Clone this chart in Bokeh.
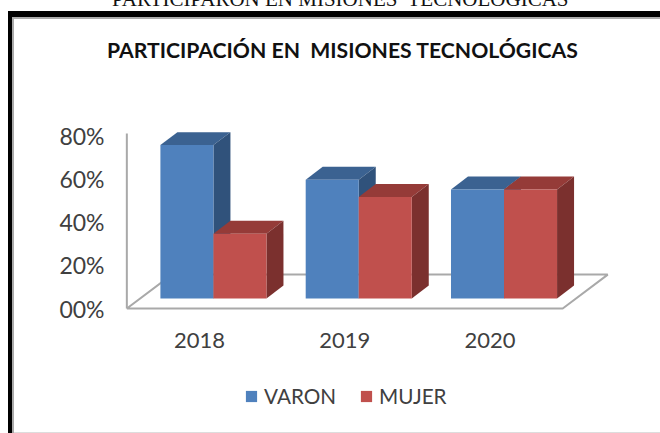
from bokeh.plotting import figure
from bokeh.models import Range1d, FixedTicker, Legend, LegendItem, Div, Column
from bokeh.embed import file_html
from bokeh.resources import INLINE

years = ["2018", "2019", "2020"]
varon = [71, 55, 50.5]
mujer = [30, 47, 50.5]
y_ticks = [0, 20, 40, 60, 80]
y_labels = ["00%", "20%", "40%", "60%", "80%"]
series_names = ["VARON", "MUJER"]
title_text = "PARTICIPACIÓN EN&nbsp; MISIONES TECNOLÓGICAS"
cut_text = "PARTICIPARON EN MISIONES&nbsp; TECNOLOGICAS"

BLUE, BLUE_TOP, BLUE_SIDE = "#4F81BD", "#3B6291", "#30527B"
RED, RED_TOP, RED_SIDE = "#C0504D", "#953B38", "#7B302E"
GREY = "#A9A9A9"
TEXT = "#404040"

# depth of the 3D look, in axis units
FLOOR_DX, FLOOR_DY = 0.31, 15.7
BAR_DX, BAR_DY = 0.117, 6.0
BASE = 4.63      # how far the bars stand back from the front edge
SHIFT = 0.096    # same thing horizontally
W = 0.365

p = figure(width=660, height=375, output_backend="svg", toolbar_location=None,
           x_range=Range1d(-0.523, 3.173), y_range=Range1d(-1.85, 84.7),
           min_border_left=123, min_border_right=0, min_border_top=125, min_border_bottom=63)
p.outline_line_color = None
p.grid.visible = False
p.background_fill_color = "white"

# floor and wall
p.line([-0.5, -0.5], [0, 81], line_color=GREY, line_width=2)
p.line([-0.5, 2.5, 2.5 + FLOOR_DX, -0.5 + FLOOR_DX, -0.5],
       [0, 0, FLOOR_DY, FLOOR_DY, 0], line_color=GREY, line_width=2)

def box(series, offset, front, top, side):
    lefts = [i + SHIFT + offset for i in range(len(series))]
    rights = [l + W for l in lefts]
    tops = [BASE + v for v in series]
    p.patches([[l, r, r + BAR_DX, l + BAR_DX] for l, r in zip(lefts, rights)],
              [[t, t, t + BAR_DY, t + BAR_DY] for t in tops], fill_color=top, line_color=None)
    p.patches([[r, r + BAR_DX, r + BAR_DX, r] for r in rights],
               [[BASE, BASE + BAR_DY, t + BAR_DY, t] for t in tops], fill_color=side, line_color=None)
    return p.quad(left=lefts, right=rights, bottom=[BASE] * len(series), top=tops,
                  fill_color=front, line_color=None)

box(varon, -W, BLUE, BLUE_TOP, BLUE_SIDE)
box(mujer, 0, RED, RED_TOP, RED_SIDE)

yax = p.yaxis[0]
yax.ticker = FixedTicker(ticks=y_ticks)
yax.major_label_overrides = dict(zip(y_ticks, y_labels))
yax.axis_line_color = None
yax.major_tick_line_color = None
yax.minor_tick_line_color = None
yax.major_label_standoff = 13
yax.major_label_text_font = "Lato"
yax.major_label_text_font_size = "23px"
yax.major_label_text_color = TEXT

xax = p.xaxis[0]
xax.ticker = FixedTicker(ticks=list(range(len(years))))
xax.major_label_overrides = dict(enumerate(years))
xax.axis_line_color = None
xax.major_tick_line_color = None
xax.minor_tick_line_color = None
xax.major_label_standoff = 14
xax.major_label_text_font = "Lato"
xax.major_label_text_font_size = "22px"
xax.major_label_text_color = TEXT

# the legend sits in a strip of its own under the plot; its keys lie outside the strip's range
strip = figure(width=660, height=58, output_backend="svg", toolbar_location=None,
               x_range=Range1d(0, 1), y_range=Range1d(0, 1), x_axis_type=None, y_axis_type=None,
               min_border=0)
strip.outline_line_color = None
strip.grid.visible = False
key_v = strip.quad(left=[2], right=[3], top=[3], bottom=[2], fill_color=BLUE, line_color=None)
key_m = strip.quad(left=[2], right=[3], top=[3], bottom=[2], fill_color=RED, line_color=None)
legend = Legend(items=[LegendItem(label=series_names[0], renderers=[key_v]),
                       LegendItem(label=series_names[1], renderers=[key_m])],
                orientation="horizontal", location=(121, 25), border_line_color=None,
                background_fill_alpha=0, glyph_width=14, glyph_height=14, label_standoff=6, spacing=23,
                padding=0, margin=0, label_text_font="Lato", label_text_font_size="20.7px",
                label_text_color=TEXT)
strip.add_layout(legend)

def bar(l, t, w, h, c):
    return (f'<div style="position:absolute;left:{l}px;top:{t}px;width:{w}px;height:{h}px;'
            f'background:{c}"></div>')

extras = (
    f'<div style="position:absolute;left:112px;top:-11px;white-space:nowrap;font-family:\'Liberation Serif\';'
    f'font-size:21px;color:#111;line-height:20px">{cut_text}</div>'
    f'<div style="position:absolute;left:107px;top:37px;white-space:nowrap;font-family:Lato;font-weight:bold;'
    f'font-size:21.2px;color:#111;line-height:26px">{title_text}</div>'
    + bar(8, 11, 652, 6, "#000") + bar(8, 17, 652, 2, "#AAA")
    + bar(8, 11, 4, 422, "#000") + bar(12, 17, 2, 416, "#AAA")
    + bar(14, 432, 646, 1, "#DDD")
)
overlay = Div(text=extras, width=0, height=0, margin=0,
              styles={"position": "relative", "overflow": "visible", "z-index": "5"})
root = Column(children=[overlay, p, strip], spacing=0)

open("out.html", "w").write(file_html(root, INLINE))
